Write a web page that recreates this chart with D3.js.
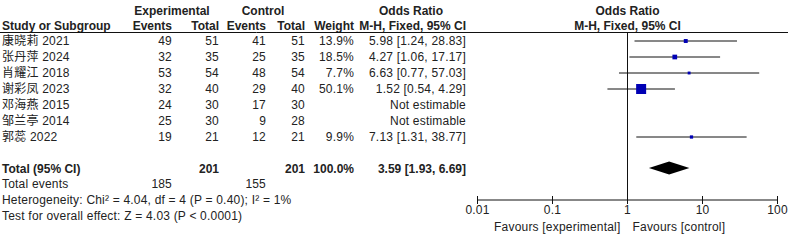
<!DOCTYPE html>
<html>
<head>
<meta charset="utf-8">
<script src="https://cdn.jsdelivr.net/npm/d3@7"></script>
<style>
  body { margin: 0; background: #fff; }
  svg text { font-family: "Liberation Sans", Arial, "Noto Sans CJK SC", sans-serif; font-size: 12px; fill: #222; letter-spacing: 0.2px; }
  svg text.b { font-weight: bold; letter-spacing: 0; }
</style>
</head>
<body>
<div id="chart"></div>
<script>
// study rows
const studies = ["康晓莉 2021", "张丹萍 2024", "肖耀江 2018", "谢彩凤 2023", "邓海燕 2015", "邹兰亭 2014", "郭蕊 2022"];
const expEvents = [49, 32, 53, 32, 24, 25, 19];
const expTotal = [51, 35, 54, 40, 30, 30, 21];
const ctrlEvents = [41, 25, 48, 29, 17, 9, 12];
const ctrlTotal = [51, 35, 54, 40, 30, 28, 21];
const weights = [13.9, 18.5, 7.7, 50.1, null, null, 9.9];
const oddsRatio = [5.98, 4.27, 6.63, 1.52, null, null, 7.13];
const ciLow = [1.24, 1.06, 0.77, 0.54, null, null, 1.31];
const ciHigh = [28.83, 17.17, 57.03, 4.29, null, null, 38.77];

// pooled
const pooled = { or: 3.59, lo: 1.93, hi: 6.69 };
const totals = { exp: 201, ctrl: 201, weight: "100.0%", expEv: 185, ctrlEv: 155 };
const footnotes = [
    "Heterogeneity: Chi\u00b2 = 4.04, df = 4 (P = 0.40); I\u00b2 = 1%",
    "Test for overall effect: Z = 4.03 (P < 0.0001)"
];
const tickValues = [0.01, 0.1, 1, 10, 100];
const tickLabels = ["0.01", "0.1", "1", "10", "100"];

const W = 788, H = 240;
const svg = d3.select("#chart").append("svg").attr("width", W).attr("height", H);

const fmt = d3.format(".2f");
const col = { name: 2, expEv: 172, expTot: 219, ctrlEv: 266, ctrlTot: 305, weight: 354, or: 466 };

// scales
const x = d3.scaleLog().domain([0.01, 100]).range([477.5, 777.5]);
const y = d3.scaleLinear().domain([0, 6]).range([41, 137]);
const side = d3.scaleLinear().domain([0, 50.1]).range([1.6, 10]);

function txt(xp, yp, s, anchor, bold) {
    svg.append("text")
        .attr("x", xp).attr("y", yp)
        .attr("text-anchor", anchor || "start")
        .attr("class", bold ? "b" : null)
        .text(s);
}

// headers
txt(172, 15, "Experimental", "middle", true);
txt(263, 15, "Control", "middle", true);
txt(411, 15, "Odds Ratio", "middle", true);
txt(627.5, 15, "Odds Ratio", "middle", true);
txt(col.name, 30, "Study or Subgroup", "start", true);
txt(col.expEv, 30, "Events", "end", true);
txt(col.expTot, 30, "Total", "end", true);
txt(col.ctrlEv, 30, "Events", "end", true);
txt(col.ctrlTot, 30, "Total", "end", true);
txt(col.weight, 30, "Weight", "end", true);
txt(col.or, 30, "M-H, Fixed, 95% CI", "end", true);
txt(627.5, 30, "M-H, Fixed, 95% CI", "middle", true);

svg.append("line").attr("x1", 0).attr("x2", W).attr("y1", 32.5).attr("y2", 32.5)
    .attr("stroke", "#111").attr("stroke-width", 1);

// study rows
studies.forEach((s, i) => {
    const yy = y(i) + 4;
    txt(col.name, yy, s);
    txt(col.expEv, yy, expEvents[i], "end");
    txt(col.expTot, yy, expTotal[i], "end");
    txt(col.ctrlEv, yy, ctrlEvents[i], "end");
    txt(col.ctrlTot, yy, ctrlTotal[i], "end");
    if (weights[i] != null) txt(col.weight, yy, weights[i].toFixed(1) + "%", "end");
    txt(col.or, yy, oddsRatio[i] != null
        ? `${fmt(oddsRatio[i])} [${fmt(ciLow[i])}, ${fmt(ciHigh[i])}]`
        : "Not estimable", "end");
});

// total rows
const yt = 169;
txt(col.name, yt + 4, "Total (95% CI)", "start", true);
txt(col.expTot, yt + 4, totals.exp, "end", true);
txt(col.ctrlTot, yt + 4, totals.ctrl, "end", true);
txt(col.weight, yt + 4, totals.weight, "end", true);
txt(col.or, yt + 4, `${fmt(pooled.or)} [${fmt(pooled.lo)}, ${fmt(pooled.hi)}]`, "end", true);
txt(col.name, 188, "Total events");
txt(col.expEv, 188, totals.expEv, "end");
txt(col.ctrlEv, 188, totals.ctrlEv, "end");
txt(col.name, 204, footnotes[0]);
txt(col.name, 220, footnotes[1]);

// plot
const axisY = 200;
svg.append("line").attr("x1", x(1)).attr("x2", x(1)).attr("y1", 32.5).attr("y2", axisY)
    .attr("stroke", "#111");

const rows = studies.map((s, i) => ({ i, or: oddsRatio[i], lo: ciLow[i], hi: ciHigh[i], w: weights[i] }))
    .filter(d => d.or != null);

svg.selectAll("line.ci").data(rows).join("line")
    .attr("class", "ci")
    .attr("x1", d => x(d.lo)).attr("x2", d => x(d.hi))
    .attr("y1", d => y(d.i)).attr("y2", d => y(d.i))
    .attr("stroke", "#111").attr("stroke-width", 1);

svg.selectAll("rect.sq").data(rows).join("rect")
    .attr("class", "sq")
    .attr("x", d => x(d.or) - side(d.w) / 2)
    .attr("y", d => y(d.i) - side(d.w) / 2)
    .attr("width", d => side(d.w)).attr("height", d => side(d.w))
    .attr("fill", "#0000b4");

const dh = 6.5;
svg.append("path")
    .attr("d", `M${x(pooled.lo)},${yt - 1}L${x(pooled.or)},${yt - 1 - dh}L${x(pooled.hi)},${yt - 1}L${x(pooled.or)},${yt - 1 + dh}Z`)
    .attr("fill", "#000");

// axis
const ax = svg.append("g").attr("transform", `translate(0,${axisY})`);
ax.append("line").attr("x1", x(0.01)).attr("x2", x(100)).attr("stroke", "#111");
ax.selectAll("line.tk").data(tickValues).join("line")
    .attr("class", "tk")
    .attr("x1", d => x(d)).attr("x2", d => x(d))
    .attr("y1", -4).attr("y2", 4)
    .attr("stroke", "#111");
ax.selectAll("text").data(tickValues).join("text")
    .attr("x", d => x(d)).attr("y", 14)
    .attr("text-anchor", "middle")
    .text((d, i) => tickLabels[i]);

txt(x(1) - 7, 231, "Favours [experimental]", "end");
txt(x(1) + 5, 231, "Favours [control]", "start");
</script>
</body>
</html>
